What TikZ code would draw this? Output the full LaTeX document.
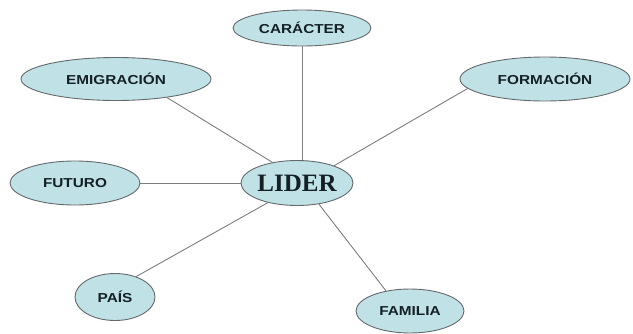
\documentclass[tikz,border=0pt]{standalone}
\usepackage{fontspec}
\setmainfont{Liberation Sans}
\newfontfamily\liderfont{Liberation Serif}
\usetikzlibrary{shapes.geometric,backgrounds}
\definecolor{bubble}{RGB}{192,226,230}
\definecolor{rim}{RGB}{100,105,108}
\definecolor{wire}{RGB}{125,125,125}
\definecolor{ink}{RGB}{20,32,38}
\newcommand{\wlab}[1]{\scalebox{1.18}[1]{#1}}
\tikzset{
  bub/.style={ellipse, draw=rim, line width=0.9pt, fill=bubble, inner sep=0pt,
    text=ink, font=\bfseries\fontsize{13}{14}\selectfont},
  wire/.style={draw=wire, line width=0.9pt}
}
\begin{document}
\begin{tikzpicture}[x=1pt,y=-1pt]
\useasboundingbox (0,0) rectangle (633,333);
\node[bub, minimum width=138pt, minimum height=36pt] (c) at (302,28) {\wlab{CARÁCTER}};
\node[bub, minimum width=190pt, minimum height=43pt] (e) at (116,79) {\wlab{EMIGRACIÓN}};
\node[bub, minimum width=170pt, minimum height=44pt] (f) at (545,79) {\wlab{FORMACIÓN}};
\node[bub, minimum width=130pt, minimum height=44pt] (u) at (75,183) {\wlab{FUTURO}};
\node[bub, minimum width=110pt, minimum height=45pt, font=\liderfont\bfseries\fontsize{25}{26}\selectfont] (l) at (297,183) {LIDER};
\node[bub, minimum width=80pt, minimum height=47pt] (p) at (115,297) {\wlab{PAÍS}};
\node[bub, minimum width=108pt, minimum height=44pt] (m) at (410,311) {\wlab{FAMILIA}};
\begin{scope}[on background layer]
\draw[wire] (c) -- (c |- l);
\draw[wire] (e.340) -- (l.140);
\draw[wire] (f.187) -- (l.25);
\draw[wire] (u) -- (l);
\draw[wire] (p.44) -- (l.214);
\draw[wire] (m.140) -- (l.316);
\end{scope}
\end{tikzpicture}
\end{document}
